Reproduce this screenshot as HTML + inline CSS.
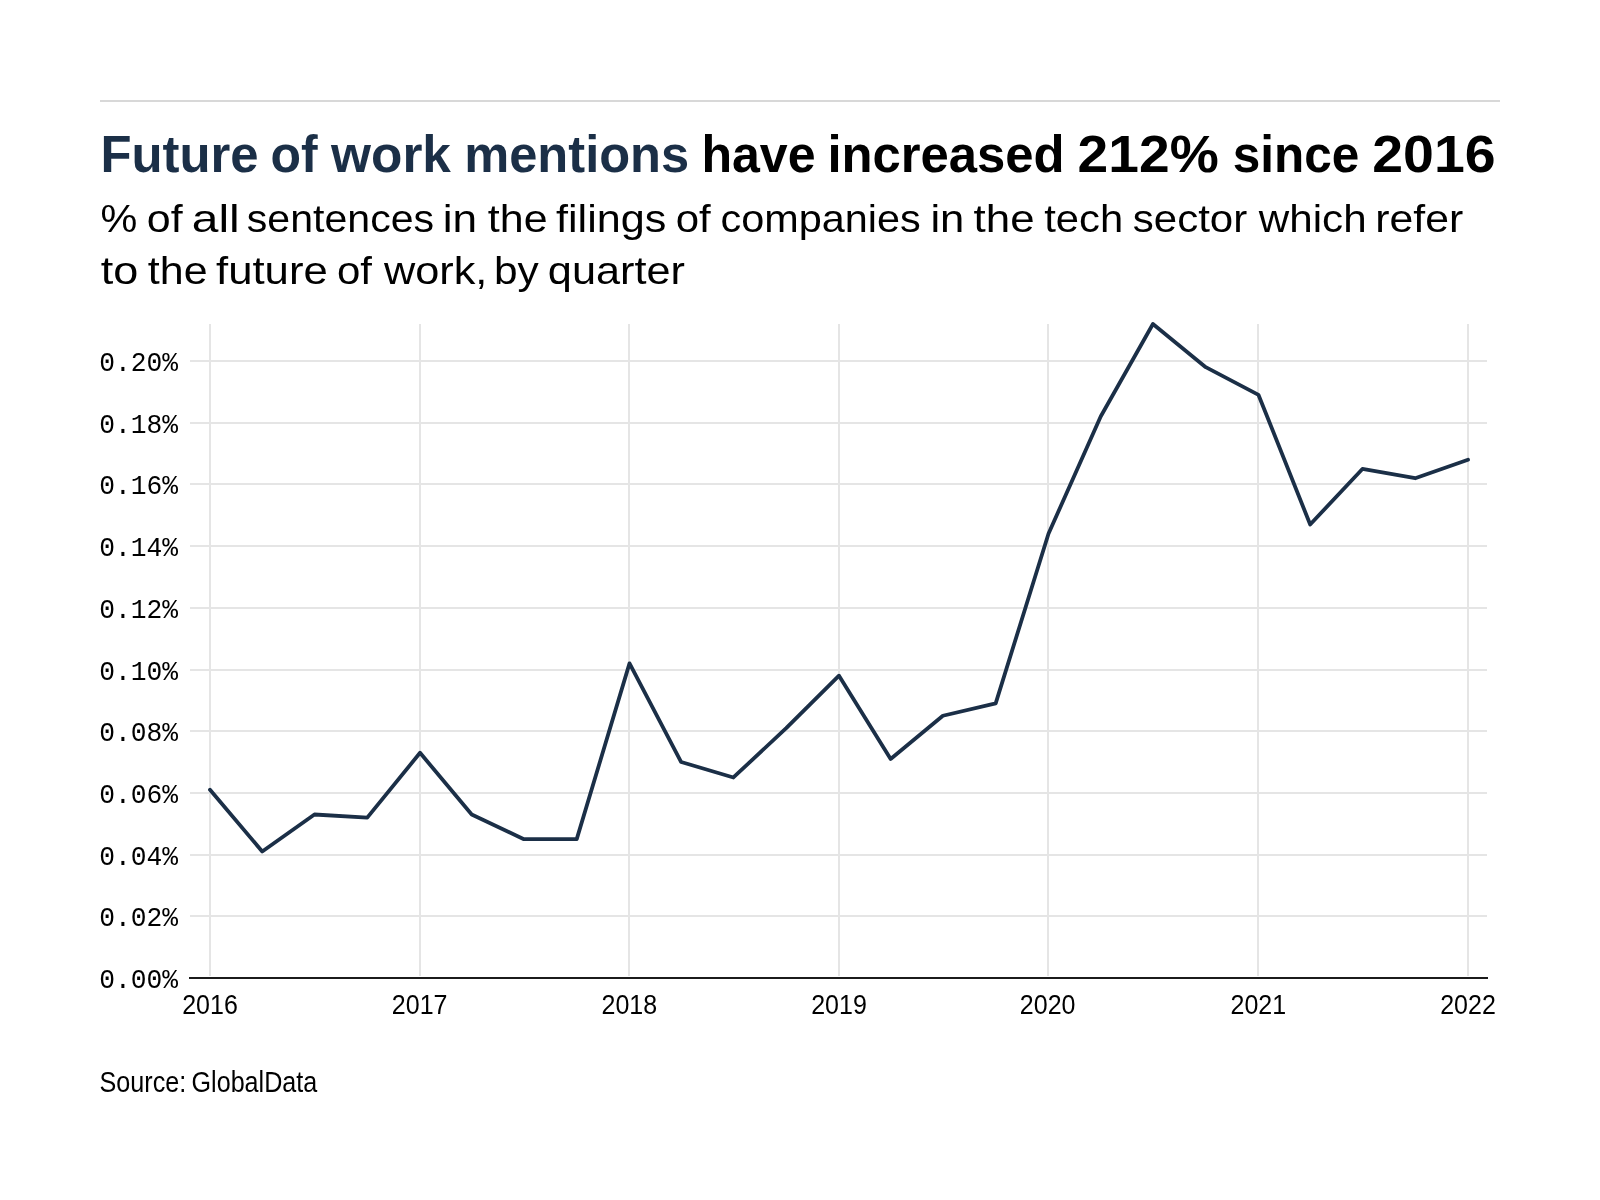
<!DOCTYPE html>
<html><head><meta charset="utf-8"><style>
html,body{margin:0;padding:0;background:#fff;width:1600px;height:1200px;overflow:hidden}
svg{display:block;will-change:transform}
</style></head><body>
<svg width="1600" height="1200" viewBox="0 0 1600 1200">
<rect width="1600" height="1200" fill="#fff"/>
<line x1="100" x2="1500" y1="101" y2="101" stroke="#d8d8d8" stroke-width="2"/>
<g stroke="#e5e5e5" stroke-width="2">
<line x1="190" x2="1487" y1="916" y2="916"/>
<line x1="190" x2="1487" y1="855" y2="855"/>
<line x1="190" x2="1487" y1="793" y2="793"/>
<line x1="190" x2="1487" y1="731" y2="731"/>
<line x1="190" x2="1487" y1="670" y2="670"/>
<line x1="190" x2="1487" y1="608" y2="608"/>
<line x1="190" x2="1487" y1="546" y2="546"/>
<line x1="190" x2="1487" y1="484" y2="484"/>
<line x1="190" x2="1487" y1="423" y2="423"/>
<line x1="190" x2="1487" y1="361" y2="361"/>
<line x1="210" x2="210" y1="324" y2="976"/>
<line x1="420" x2="420" y1="324" y2="976"/>
<line x1="629" x2="629" y1="324" y2="976"/>
<line x1="839" x2="839" y1="324" y2="976"/>
<line x1="1048" x2="1048" y1="324" y2="976"/>
<line x1="1258" x2="1258" y1="324" y2="976"/>
<line x1="1468" x2="1468" y1="324" y2="976"/>
</g>
<line x1="189" x2="1488" y1="978" y2="978" stroke="#1b1b1b" stroke-width="2"/>
<polyline points="210.00,789.82 262.23,851.51 314.45,814.50 367.25,817.58 420.05,752.80 471.70,814.50 523.93,839.17 576.73,839.17 629.52,663.33 681.18,762.05 733.40,777.48 786.20,728.12 839.00,675.67 890.65,758.97 942.88,715.77 995.68,703.43 1048.48,533.76 1100.70,416.53 1152.93,323.98 1205.73,367.17 1258.52,394.93 1310.18,524.51 1362.40,468.97 1415.20,478.23 1468.00,459.72" fill="none" stroke="#1b2f47" stroke-width="3.8" stroke-linejoin="round" stroke-linecap="round"/>
<text id="w0" x="100.42" y="172.00" font-family='"Liberation Sans",sans-serif' font-size="52.5" font-weight="bold" fill="#1b2f47" textLength="158.15" lengthAdjust="spacingAndGlyphs">Future</text>
<text id="w1" x="270.43" y="172.00" font-family='"Liberation Sans",sans-serif' font-size="52.5" font-weight="bold" fill="#1b2f47" textLength="47.15" lengthAdjust="spacingAndGlyphs">of</text>
<text id="w2" x="331.03" y="172.00" font-family='"Liberation Sans",sans-serif' font-size="52.5" font-weight="bold" fill="#1b2f47" textLength="119.95" lengthAdjust="spacingAndGlyphs">work</text>
<text id="w3" x="464.23" y="172.00" font-family='"Liberation Sans",sans-serif' font-size="52.5" font-weight="bold" fill="#1b2f47" textLength="224.95" lengthAdjust="spacingAndGlyphs">mentions</text>
<text id="w4" x="701.42" y="172.00" font-family='"Liberation Sans",sans-serif' font-size="52.5" font-weight="bold" fill="#000" textLength="114.15" lengthAdjust="spacingAndGlyphs">have</text>
<text id="w5" x="827.42" y="172.00" font-family='"Liberation Sans",sans-serif' font-size="52.5" font-weight="bold" fill="#000" textLength="237.15" lengthAdjust="spacingAndGlyphs">increased</text>
<text id="w6" x="1077.62" y="172.00" font-family='"Liberation Sans",sans-serif' font-size="52.5" font-weight="bold" fill="#000" textLength="141.15" lengthAdjust="spacingAndGlyphs">212%</text>
<text id="w7" x="1232.82" y="172.00" font-family='"Liberation Sans",sans-serif' font-size="52.5" font-weight="bold" fill="#000" textLength="126.55" lengthAdjust="spacingAndGlyphs">since</text>
<text id="w8" x="1372.23" y="172.00" font-family='"Liberation Sans",sans-serif' font-size="52.5" font-weight="bold" fill="#000" textLength="123.35" lengthAdjust="spacingAndGlyphs">2016</text>
<text id="w9" x="100.62" y="232.00" font-family='"Liberation Sans",sans-serif' font-size="39.5" fill="#000" textLength="36.77" lengthAdjust="spacingAndGlyphs">%</text>
<text id="w10" x="146.81" y="232.00" font-family='"Liberation Sans",sans-serif' font-size="39.5" fill="#000" textLength="35.77" lengthAdjust="spacingAndGlyphs">of</text>
<text id="w11" x="191.81" y="232.00" font-family='"Liberation Sans",sans-serif' font-size="39.5" fill="#000" textLength="47.97" lengthAdjust="spacingAndGlyphs">all</text>
<text id="w12" x="246.81" y="232.00" font-family='"Liberation Sans",sans-serif' font-size="39.5" fill="#000" textLength="187.37" lengthAdjust="spacingAndGlyphs">sentences</text>
<text id="w13" x="442.81" y="232.00" font-family='"Liberation Sans",sans-serif' font-size="39.5" fill="#000" textLength="34.37" lengthAdjust="spacingAndGlyphs">in</text>
<text id="w14" x="487.81" y="232.00" font-family='"Liberation Sans",sans-serif' font-size="39.5" fill="#000" textLength="59.77" lengthAdjust="spacingAndGlyphs">the</text>
<text id="w15" x="556.02" y="232.00" font-family='"Liberation Sans",sans-serif' font-size="39.5" fill="#000" textLength="110.37" lengthAdjust="spacingAndGlyphs">filings</text>
<text id="w16" x="675.82" y="232.00" font-family='"Liberation Sans",sans-serif' font-size="39.5" fill="#000" textLength="34.97" lengthAdjust="spacingAndGlyphs">of</text>
<text id="w17" x="720.62" y="232.00" font-family='"Liberation Sans",sans-serif' font-size="39.5" fill="#000" textLength="200.17" lengthAdjust="spacingAndGlyphs">companies</text>
<text id="w18" x="930.42" y="232.00" font-family='"Liberation Sans",sans-serif' font-size="39.5" fill="#000" textLength="33.97" lengthAdjust="spacingAndGlyphs">in</text>
<text id="w19" x="973.62" y="232.00" font-family='"Liberation Sans",sans-serif' font-size="39.5" fill="#000" textLength="60.97" lengthAdjust="spacingAndGlyphs">the</text>
<text id="w20" x="1044.22" y="232.00" font-family='"Liberation Sans",sans-serif' font-size="39.5" fill="#000" textLength="78.97" lengthAdjust="spacingAndGlyphs">tech</text>
<text id="w21" x="1132.82" y="232.00" font-family='"Liberation Sans",sans-serif' font-size="39.5" fill="#000" textLength="114.37" lengthAdjust="spacingAndGlyphs">sector</text>
<text id="w22" x="1258.82" y="232.00" font-family='"Liberation Sans",sans-serif' font-size="39.5" fill="#000" textLength="107.77" lengthAdjust="spacingAndGlyphs">which</text>
<text id="w23" x="1375.22" y="232.00" font-family='"Liberation Sans",sans-serif' font-size="39.5" fill="#000" textLength="87.97" lengthAdjust="spacingAndGlyphs">refer</text>
<text id="w24" x="100.81" y="283.80" font-family='"Liberation Sans",sans-serif' font-size="39.5" fill="#000" textLength="37.57" lengthAdjust="spacingAndGlyphs">to</text>
<text id="w25" x="147.81" y="283.80" font-family='"Liberation Sans",sans-serif' font-size="39.5" fill="#000" textLength="59.77" lengthAdjust="spacingAndGlyphs">the</text>
<text id="w26" x="216.01" y="283.80" font-family='"Liberation Sans",sans-serif' font-size="39.5" fill="#000" textLength="111.77" lengthAdjust="spacingAndGlyphs">future</text>
<text id="w27" x="337.02" y="283.80" font-family='"Liberation Sans",sans-serif' font-size="39.5" fill="#000" textLength="34.97" lengthAdjust="spacingAndGlyphs">of</text>
<text id="w28" x="384.02" y="283.80" font-family='"Liberation Sans",sans-serif' font-size="39.5" fill="#000" textLength="103.37" lengthAdjust="spacingAndGlyphs">work,</text>
<text id="w29" x="494.02" y="283.80" font-family='"Liberation Sans",sans-serif' font-size="39.5" fill="#000" textLength="44.77" lengthAdjust="spacingAndGlyphs">by</text>
<text id="w30" x="547.82" y="283.80" font-family='"Liberation Sans",sans-serif' font-size="39.5" fill="#000" textLength="137.17" lengthAdjust="spacingAndGlyphs">quarter</text>
<text id="w31" x="99.56" y="1091.50" font-family='"Liberation Sans",sans-serif' font-size="29" fill="#000" textLength="86.68" lengthAdjust="spacingAndGlyphs">Source:</text>
<text id="w32" x="191.56" y="1091.50" font-family='"Liberation Sans",sans-serif' font-size="29" fill="#000" textLength="125.68" lengthAdjust="spacingAndGlyphs">GlobalData</text>
<text id="w33" x="182.19" y="1014.00" font-family='"Liberation Sans",sans-serif' font-size="27" fill="#000" textLength="55.62" lengthAdjust="spacingAndGlyphs">2016</text>
<text id="w34" x="391.87" y="1014.00" font-family='"Liberation Sans",sans-serif' font-size="27" fill="#000" textLength="55.62" lengthAdjust="spacingAndGlyphs">2017</text>
<text id="w35" x="601.51" y="1014.00" font-family='"Liberation Sans",sans-serif' font-size="27" fill="#000" textLength="55.62" lengthAdjust="spacingAndGlyphs">2018</text>
<text id="w36" x="811.19" y="1014.00" font-family='"Liberation Sans",sans-serif' font-size="27" fill="#000" textLength="55.62" lengthAdjust="spacingAndGlyphs">2019</text>
<text id="w37" x="1019.87" y="1014.00" font-family='"Liberation Sans",sans-serif' font-size="27" fill="#000" textLength="55.62" lengthAdjust="spacingAndGlyphs">2020</text>
<text id="w38" x="1230.51" y="1014.00" font-family='"Liberation Sans",sans-serif' font-size="27" fill="#000" textLength="55.62" lengthAdjust="spacingAndGlyphs">2021</text>
<text id="w39" x="1440.19" y="1014.00" font-family='"Liberation Sans",sans-serif' font-size="27" fill="#000" textLength="55.62" lengthAdjust="spacingAndGlyphs">2022</text>
<text id="w40" x="99.19" y="987.50" font-family='"Liberation Mono",monospace' font-size="27" fill="#000" textLength="78.82" lengthAdjust="spacingAndGlyphs">0.00%</text>
<text id="w41" x="99.19" y="925.50" font-family='"Liberation Mono",monospace' font-size="27" fill="#000" textLength="78.82" lengthAdjust="spacingAndGlyphs">0.02%</text>
<text id="w42" x="99.19" y="864.50" font-family='"Liberation Mono",monospace' font-size="27" fill="#000" textLength="78.82" lengthAdjust="spacingAndGlyphs">0.04%</text>
<text id="w43" x="99.19" y="802.50" font-family='"Liberation Mono",monospace' font-size="27" fill="#000" textLength="78.82" lengthAdjust="spacingAndGlyphs">0.06%</text>
<text id="w44" x="99.19" y="740.50" font-family='"Liberation Mono",monospace' font-size="27" fill="#000" textLength="78.82" lengthAdjust="spacingAndGlyphs">0.08%</text>
<text id="w45" x="99.19" y="679.50" font-family='"Liberation Mono",monospace' font-size="27" fill="#000" textLength="78.82" lengthAdjust="spacingAndGlyphs">0.10%</text>
<text id="w46" x="99.19" y="617.50" font-family='"Liberation Mono",monospace' font-size="27" fill="#000" textLength="78.82" lengthAdjust="spacingAndGlyphs">0.12%</text>
<text id="w47" x="99.19" y="555.50" font-family='"Liberation Mono",monospace' font-size="27" fill="#000" textLength="78.82" lengthAdjust="spacingAndGlyphs">0.14%</text>
<text id="w48" x="99.19" y="493.50" font-family='"Liberation Mono",monospace' font-size="27" fill="#000" textLength="78.82" lengthAdjust="spacingAndGlyphs">0.16%</text>
<text id="w49" x="99.19" y="432.50" font-family='"Liberation Mono",monospace' font-size="27" fill="#000" textLength="78.82" lengthAdjust="spacingAndGlyphs">0.18%</text>
<text id="w50" x="99.19" y="370.50" font-family='"Liberation Mono",monospace' font-size="27" fill="#000" textLength="78.82" lengthAdjust="spacingAndGlyphs">0.20%</text>
</svg>
</body></html>
